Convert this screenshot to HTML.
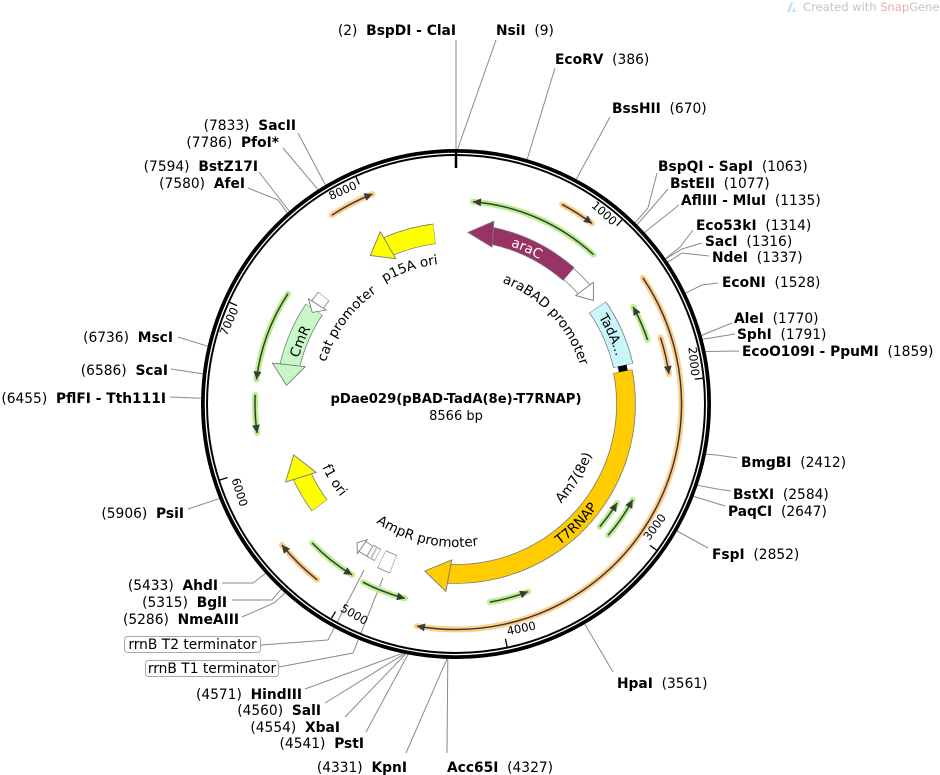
<!DOCTYPE html>
<html><head><meta charset="utf-8"><style>
html,body{margin:0;padding:0;background:#fff;}
svg{display:block;font-family:"DejaVu Sans","Liberation Sans",sans-serif;}
text{white-space:pre;}
.l{font-size:13.8px;fill:#000;}
.b{font-weight:bold;}
.t{font-size:11.5px;fill:#000;}
.in{font-size:13.5px;fill:#000;}
.ln{stroke:#8a8a8a;stroke-width:1;fill:none;}
</style></head><body>
<svg xmlns="http://www.w3.org/2000/svg" width="940" height="775" viewBox="0 0 940 775">
<defs>
<path id="cw167" d="M456,237 A167,167 0 0 1 456,571 A167,167 0 0 1 456,237"/>
<path id="cw130" d="M456,274 A130,130 0 0 1 456,534 A130,130 0 0 1 456,274"/>
<path id="cw141" d="M456,263 A141,141 0 0 1 456,545 A141,141 0 0 1 456,263"/>
<path id="cw137" d="M456,267 A137,137 0 0 1 456,541 A137,137 0 0 1 456,267"/>
<path id="cw164" d="M456,240 A164,164 0 0 1 456,568 A164,164 0 0 1 456,240"/>
<path id="ccw175" d="M456,229 A175,175 0 0 0 456,579 A175,175 0 0 0 456,229"/>
<path id="ccw145" d="M456,259 A145,145 0 0 0 456,549 A145,145 0 0 0 456,259"/>
<path id="ccw148" d="M456,256 A148,148 0 0 0 456,552 A148,148 0 0 0 456,256"/>
<path id="ccw143" d="M456,261 A143,143 0 0 0 456,547 A143,143 0 0 0 456,261"/>
</defs>

<!-- leader lines -->
<g class="ln">
<path d="M456,150 L456,40"/>
<path d="M457.7,149 L496,40"/>
<path d="M527.2,159.1 L555,68"/>
<path d="M576.3,179.2 L610,117"/>
<path d="M635.3,222.6 L648,208 L657,173"/>
<path d="M637.1,224.5 L650,210 L668,189"/>
<path d="M644.6,232.4 L679,205"/>
<path d="M665.5,258.6 L680,247 L693,230"/>
<path d="M665.7,258.8 L682,249 L702,243"/>
<path d="M667.9,262.1 L682,253 L709,256"/>
<path d="M685.6,293.1 L702,285 L718,283"/>
<path d="M701.6,335.4 L732,323"/>
<path d="M702.6,339.2 L735,334"/>
<path d="M705.5,351.5 L739,351"/>
<path d="M706,454.3 L717,455 L737,458"/>
<path d="M697.7,485.3 L717,489 L731,491"/>
<path d="M693.7,496.4 L725,506"/>
<path d="M677.1,531 L708,548"/>
<path d="M584.8,624.1 L613,672"/>
<path d="M447.8,658.9 L447,753"/>
<path d="M447,658.9 L406,753"/>
<path d="M408,654.4 L366,732"/>
<path d="M405.6,654 L345,717"/>
<path d="M404.5,653.8 L325,703"/>
<path d="M402.6,653.3 L305,689"/>
<path d="M284.9,593.1 L274,603 L242,617"/>
<path d="M280.9,589.4 L272,600 L232,600"/>
<path d="M265.5,573.5 L253,583 L222,583"/>
<path d="M219.2,498.7 L188,509"/>
<path d="M201,398.3 L170,397"/>
<path d="M202.8,373.9 L171,369"/>
<path d="M207.6,346.2 L178,337"/>
<path d="M287.3,212.8 L278,200 L248,188"/>
<path d="M289.2,211.1 L259,172"/>
<path d="M318,189.6 L283,148"/>
<path d="M325.4,185 L298,133"/>
<path d="M383,578 L353,653 L279,667"/>
<path d="M364,570 L328,640 L261,645"/>
</g>

<!-- ring -->
<circle cx="456" cy="404" r="251.5" fill="none" stroke="#000" stroke-width="7"/>
<circle cx="456" cy="404" r="250.6" fill="none" stroke="#fff" stroke-width="1.3"/>
<line x1="456" y1="149" x2="456" y2="168" stroke="#000" stroke-width="2.5"/>
<g stroke="#000" stroke-width="1.3">
<line x1="456" y1="156" x2="456" y2="164" transform="rotate(42.03 456 404)"/>
<line x1="456" y1="156" x2="456" y2="164" transform="rotate(84.05 456 404)"/>
<line x1="456" y1="156" x2="456" y2="164" transform="rotate(126.08 456 404)"/>
<line x1="456" y1="156" x2="456" y2="164" transform="rotate(168.11 456 404)"/>
<line x1="456" y1="156" x2="456" y2="164" transform="rotate(210.14 456 404)"/>
<line x1="456" y1="156" x2="456" y2="164" transform="rotate(252.16 456 404)"/>
<line x1="456" y1="156" x2="456" y2="164" transform="rotate(294.19 456 404)"/>
<line x1="456" y1="156" x2="456" y2="164" transform="rotate(336.22 456 404)"/>
</g>
<text class="t" x="453" y="167" text-anchor="end" transform="rotate(42.03 456 404)">1000</text>
<text class="t" x="453" y="167" text-anchor="end" transform="rotate(84.05 456 404)">2000</text>
<text class="t" x="459" y="641" transform="rotate(-53.92 456 404)">3000</text>
<text class="t" x="459" y="641" transform="rotate(-11.89 456 404)">4000</text>
<text class="t" x="459" y="641" transform="rotate(30.14 456 404)">5000</text>
<text class="t" x="459" y="641" transform="rotate(72.16 456 404)">6000</text>
<text class="t" x="453" y="167" text-anchor="end" transform="rotate(294.19 456 404)">7000</text>
<text class="t" x="453" y="167" text-anchor="end" transform="rotate(336.22 456 404)">8000</text>

<!-- primer arrows: halos -->
<g fill="none" stroke-linecap="round" stroke-width="6">
<circle cx="456" cy="404" r="203" pathLength="360" stroke="#b8f08c" stroke-dasharray="37.8 400" transform="rotate(-85.2 456 404)"/>
<circle cx="456" cy="404" r="202" pathLength="360" stroke="#b8f08c" stroke-dasharray="10.2 400" transform="rotate(-28.7 456 404)"/>
<circle cx="456" cy="404" r="201" pathLength="360" stroke="#b8f08c" stroke-dasharray="12.3 400" transform="rotate(28.5 456 404)"/>
<circle cx="456" cy="404" r="189" pathLength="360" stroke="#b8f08c" stroke-dasharray="8.9 400" transform="rotate(31.6 456 404)"/>
<circle cx="456" cy="404" r="201" pathLength="360" stroke="#b8f08c" stroke-dasharray="11.3 400" transform="rotate(69 456 404)"/>
<circle cx="456" cy="404" r="201" pathLength="360" stroke="#b8f08c" stroke-dasharray="12.9 400" transform="rotate(104.7 456 404)"/>
<circle cx="456" cy="404" r="200" pathLength="360" stroke="#b8f08c" stroke-dasharray="14.7 400" transform="rotate(121.3 456 404)"/>
<circle cx="456" cy="404" r="201" pathLength="360" stroke="#b8f08c" stroke-dasharray="26.3 400" transform="rotate(187 456 404)"/>
<circle cx="456" cy="404" r="201" pathLength="360" stroke="#b8f08c" stroke-dasharray="10.9 400" transform="rotate(171.7 456 404)"/>
<circle cx="456" cy="404" r="226" pathLength="360" stroke="#ffcf8a" stroke-dasharray="9 400" transform="rotate(-62 456 404)"/>
<circle cx="456" cy="404" r="226" pathLength="360" stroke="#ffcf8a" stroke-dasharray="11.6 400" transform="rotate(236.7 456 404)"/>
<circle cx="456" cy="404" r="215" pathLength="360" stroke="#ffcf8a" stroke-dasharray="10 400" transform="rotate(-18 456 404)"/>
<circle cx="456" cy="404" r="225.5" pathLength="360" stroke="#ffcf8a" stroke-dasharray="134 400" transform="rotate(-34 456 404)"/>
<circle cx="456" cy="404" r="224" pathLength="360" stroke="#ffcf8a" stroke-dasharray="12.7 400" transform="rotate(128.3 456 404)"/>
</g>
<!-- primer arrows: dark lines -->
<g fill="none" stroke="#3a3a3a" stroke-width="1.5">
<circle cx="456" cy="404" r="203" pathLength="360" stroke-dasharray="37.8 400" transform="rotate(-85.2 456 404)"/>
<circle cx="456" cy="404" r="202" pathLength="360" stroke-dasharray="10.2 400" transform="rotate(-28.7 456 404)"/>
<circle cx="456" cy="404" r="201" pathLength="360" stroke-dasharray="12.3 400" transform="rotate(28.5 456 404)"/>
<circle cx="456" cy="404" r="189" pathLength="360" stroke-dasharray="8.9 400" transform="rotate(31.6 456 404)"/>
<circle cx="456" cy="404" r="201" pathLength="360" stroke-dasharray="11.3 400" transform="rotate(69 456 404)"/>
<circle cx="456" cy="404" r="201" pathLength="360" stroke-dasharray="12.9 400" transform="rotate(104.7 456 404)"/>
<circle cx="456" cy="404" r="200" pathLength="360" stroke-dasharray="14.7 400" transform="rotate(121.3 456 404)"/>
<circle cx="456" cy="404" r="201" pathLength="360" stroke-dasharray="26.3 400" transform="rotate(187 456 404)"/>
<circle cx="456" cy="404" r="201" pathLength="360" stroke-dasharray="10.9 400" transform="rotate(171.7 456 404)"/>
<circle cx="456" cy="404" r="226" pathLength="360" stroke-dasharray="9 400" transform="rotate(-62 456 404)"/>
<circle cx="456" cy="404" r="226" pathLength="360" stroke-dasharray="11.6 400" transform="rotate(236.7 456 404)"/>
<circle cx="456" cy="404" r="215" pathLength="360" stroke-dasharray="10 400" transform="rotate(-18 456 404)"/>
<circle cx="456" cy="404" r="225.5" pathLength="360" stroke-dasharray="134 400" transform="rotate(-34 456 404)"/>
<circle cx="456" cy="404" r="224" pathLength="360" stroke-dasharray="12.7 400" transform="rotate(128.3 456 404)"/>
</g>
<!-- primer arrowheads (CCW pointing: base at +x; CW pointing: base at -x) -->
<g fill="#3a3a3a" stroke-linejoin="round">
<polygon points="456,201 464,197 464,205" transform="rotate(4.8 456 404)"/>
<polygon points="456,202 464,198 464,206" transform="rotate(61.3 456 404)"/>
<polygon points="456,203 464,199 464,207" transform="rotate(118.5 456 404)"/>
<polygon points="456,215 464,211 464,219" transform="rotate(121.6 456 404)"/>
<polygon points="456,203 464,199 464,207" transform="rotate(159 456 404)"/>
<polygon points="456,203 464,199 464,207" transform="rotate(194.7 456 404)"/>
<polygon points="456,204 464,200 464,208" transform="rotate(211.3 456 404)"/>
<polygon points="456,203 464,199 464,207" transform="rotate(277 456 404)"/>
<polygon points="456,203 464,199 464,207" transform="rotate(261.7 456 404)"/>
<polygon points="456,178 448,174 448,182" transform="rotate(37 456 404)"/>
<polygon points="456,178 448,174 448,182" transform="rotate(338.3 456 404)"/>
<polygon points="456,189 448,185 448,193" transform="rotate(82 456 404)"/>
<polygon points="456,178.5 448,174.5 448,182.5" transform="rotate(190 456 404)"/>
<polygon points="456,180 448,176 448,184" transform="rotate(231 456 404)"/>
</g>

<!-- feature bands: outlines -->
<g fill="none" stroke="#7a7a7a">
<circle cx="456" cy="404" r="172" pathLength="360" stroke-width="17.6" stroke-dasharray="29.1 400" transform="rotate(-78.15 456 404)"/>
<circle cx="456" cy="404" r="172" pathLength="360" stroke-width="15.6" stroke-dasharray="7.6 400" transform="rotate(-49.15 456 404)"/>
<circle cx="456" cy="404" r="171.5" pathLength="360" stroke-width="20.6" stroke-dasharray="21.5 400" transform="rotate(-34.35 456 404)"/>
<circle cx="456" cy="404" r="170" pathLength="360" stroke-width="19.6" stroke-dasharray="103.8 400" transform="rotate(-11.15 456 404)"/>
<circle cx="456" cy="404" r="171.5" pathLength="360" stroke-width="20.6" stroke-dasharray="16.3 400" transform="rotate(246.55 456 404)"/>
<circle cx="456" cy="404" r="170.5" pathLength="360" stroke-width="20.6" stroke-dasharray="20.9 400" transform="rotate(192.85 456 404)"/>
<circle cx="456" cy="404" r="170.5" pathLength="360" stroke-width="14.6" stroke-dasharray="3.8 400" transform="rotate(215.35 456 404)"/>
<circle cx="456" cy="404" r="170" pathLength="360" stroke-width="19.6" stroke-dasharray="11.65 400" transform="rotate(143.35 456 404)"/>
<circle cx="456" cy="404" r="170.5" pathLength="360" stroke-width="12.6" stroke-dasharray="3.3 400" transform="rotate(120.35 456 404)"/>
<circle cx="456" cy="404" r="170" pathLength="360" stroke-width="13.6" stroke-dasharray="1.4 400" transform="rotate(117.35 456 404)"/>
<circle cx="456" cy="404" r="170" pathLength="360" stroke-width="13.6" stroke-dasharray="1.4 400" transform="rotate(118.95 456 404)"/>
<circle cx="456" cy="404" r="172" pathLength="360" stroke-width="19.6" stroke-dasharray="4.3 400" transform="rotate(111.35 456 404)"/>
</g>
<!-- feature bands: fills -->
<g fill="none">
<circle cx="456" cy="404" r="172" pathLength="360" stroke="#993366" stroke-width="16" stroke-dasharray="28.8 400" transform="rotate(-78 456 404)"/>
<circle cx="456" cy="404" r="172" pathLength="360" stroke="#fff" stroke-width="14" stroke-dasharray="7.3 400" transform="rotate(-49 456 404)"/>
<circle cx="456" cy="404" r="171.5" pathLength="360" stroke="#c8f6fa" stroke-width="19" stroke-dasharray="21.2 400" transform="rotate(-34.2 456 404)"/>
<circle cx="456" cy="404" r="170.5" pathLength="360" stroke="#000" stroke-width="9" stroke-dasharray="2 400" transform="rotate(-13 456 404)"/>
<circle cx="456" cy="404" r="170" pathLength="360" stroke="#ffcc00" stroke-width="18" stroke-dasharray="103.5 400" transform="rotate(-11 456 404)"/>
<circle cx="456" cy="404" r="171.5" pathLength="360" stroke="#ffff00" stroke-width="19" stroke-dasharray="16 400" transform="rotate(246.7 456 404)"/>
<circle cx="456" cy="404" r="170.5" pathLength="360" stroke="#c8f7c8" stroke-width="19" stroke-dasharray="20.6 400" transform="rotate(193 456 404)"/>
<circle cx="456" cy="404" r="170.5" pathLength="360" stroke="#fff" stroke-width="13" stroke-dasharray="3.5 400" transform="rotate(215.5 456 404)"/>
<circle cx="456" cy="404" r="170" pathLength="360" stroke="#ffff00" stroke-width="18" stroke-dasharray="11.35 400" transform="rotate(143.5 456 404)"/>
<circle cx="456" cy="404" r="170.5" pathLength="360" stroke="#fff" stroke-width="11" stroke-dasharray="3 400" transform="rotate(120.5 456 404)"/>
<circle cx="456" cy="404" r="170" pathLength="360" stroke="#fff" stroke-width="12" stroke-dasharray="1.1 400" transform="rotate(117.5 456 404)"/>
<circle cx="456" cy="404" r="170" pathLength="360" stroke="#fff" stroke-width="12" stroke-dasharray="1.1 400" transform="rotate(119.1 456 404)"/>
<circle cx="456" cy="404" r="172" pathLength="360" stroke="#fff" stroke-width="18" stroke-dasharray="4 400" transform="rotate(111.5 456 404)"/>
</g>
<!-- feature arrowheads -->
<g stroke="#7a7a7a" stroke-width="0.9" stroke-linejoin="miter">
<polygon points="456,232 481,219 481,245" fill="#993366" transform="rotate(4 456 404)"/>
<polygon points="456,232 441.5,221 441.5,243" fill="#fff" transform="rotate(53 456 404)"/>
<polygon points="456,234 431.5,218 431.5,250" fill="#ffcc00" transform="rotate(190.6 456 404)"/>
<polygon points="456,232.5 476.5,217 476.5,248" fill="#ffff00" transform="rotate(330 456 404)"/>
<polygon points="456,233.5 476.5,217 476.5,250" fill="#c8f7c8" transform="rotate(276.3 456 404)"/>
<polygon points="456,233.5 465.5,223 465.5,244" fill="#fff" transform="rotate(302.5 456 404)"/>
<polygon points="456,234 432.5,218 432.5,250" fill="#ffff00" transform="rotate(252.6 456 404)"/>
<polygon points="456,233.5 449.5,225 449.5,242" fill="#fff" transform="rotate(215.5 456 404)"/>
</g>

<!-- feature labels -->
<text class="in" style="fill:#fff"><textPath href="#cw167" startOffset="71.4" text-anchor="middle">araC</textPath></text>
<text class="in"><textPath href="#cw130" startOffset="106.2" text-anchor="middle">araBAD promoter</textPath></text>
<text class="in" style="font-size:13px"><textPath href="#cw167" startOffset="192.4" text-anchor="middle">TadA...</textPath></text>
<text class="in"><textPath href="#ccw175" startOffset="687.2" text-anchor="middle">T7RNAP</textPath></text>
<text class="in"><textPath href="#ccw145" startOffset="602.3" text-anchor="middle">Am7(8e)</textPath></text>
<text class="in"><textPath href="#cw141" startOffset="839.2" text-anchor="middle">p15A ori</textPath></text>
<text class="in"><textPath href="#cw137" startOffset="731.7" text-anchor="middle">cat promoter</textPath></text>
<text class="in"><textPath href="#cw164" startOffset="834.9" text-anchor="middle">CmR</textPath></text>
<text class="in"><textPath href="#ccw148" startOffset="315.1" text-anchor="middle">f1 ori</textPath></text>
<text class="in"><textPath href="#ccw143" startOffset="418" text-anchor="middle">AmpR promoter</textPath></text>

<!-- Created with SnapGene -->
<path d="M787,12 L791,2 L793,2 L790,12 Z M792,12 L794,7 L796,12 Z" fill="#bfe0f5"/>
<text x="803" y="11" style="font-size:11.5px;fill:#c4c4c4">Created with <tspan style="fill:#f2a8a8">Snap</tspan>Gene®</text>

<!-- center -->
<text x="456" y="403" text-anchor="middle" style="font-size:13.2px;font-weight:bold">pDae029(pBAD-TadA(8e)-T7RNAP)</text>
<text x="456" y="420" text-anchor="middle" style="font-size:13px">8566 bp</text>

<!-- right labels -->
<text class="l" x="456" y="35" text-anchor="end">(2)  <tspan class="b">BspDI - ClaI</tspan></text>
<text class="l" x="496" y="35"><tspan class="b">NsiI</tspan>  (9)</text>
<text class="l" x="555" y="64"><tspan class="b">EcoRV</tspan>  (386)</text>
<text class="l" x="612" y="113"><tspan class="b">BssHII</tspan>  (670)</text>
<text class="l" x="658" y="171"><tspan class="b">BspQI - SapI</tspan>  (1063)</text>
<text class="l" x="670" y="188"><tspan class="b">BstEII</tspan>  (1077)</text>
<text class="l" x="681" y="205"><tspan class="b">AflIII - MluI</tspan>  (1135)</text>
<text class="l" x="696" y="230"><tspan class="b">Eco53kI</tspan>  (1314)</text>
<text class="l" x="705" y="246"><tspan class="b">SacI</tspan>  (1316)</text>
<text class="l" x="712" y="262"><tspan class="b">NdeI</tspan>  (1337)</text>
<text class="l" x="722" y="287"><tspan class="b">EcoNI</tspan>  (1528)</text>
<text class="l" x="734" y="323"><tspan class="b">AleI</tspan>  (1770)</text>
<text class="l" x="737" y="339"><tspan class="b">SphI</tspan>  (1791)</text>
<text class="l" x="742" y="356"><tspan class="b">EcoO109I - PpuMI</tspan>  (1859)</text>
<text class="l" x="741" y="467"><tspan class="b">BmgBI</tspan>  (2412)</text>
<text class="l" x="733" y="499"><tspan class="b">BstXI</tspan>  (2584)</text>
<text class="l" x="728" y="516"><tspan class="b">PaqCI</tspan>  (2647)</text>
<text class="l" x="712" y="559"><tspan class="b">FspI</tspan>  (2852)</text>
<text class="l" x="617" y="688"><tspan class="b">HpaI</tspan>  (3561)</text>
<text class="l" x="447" y="772"><tspan class="b">Acc65I</tspan>  (4327)</text>
<!-- left labels -->
<text class="l" x="407" y="772" text-anchor="end">(4331)  <tspan class="b">KpnI</tspan></text>
<text class="l" x="364" y="748" text-anchor="end">(4541)  <tspan class="b">PstI</tspan></text>
<text class="l" x="340" y="732" text-anchor="end">(4554)  <tspan class="b">XbaI</tspan></text>
<text class="l" x="321" y="715" text-anchor="end">(4560)  <tspan class="b">SalI</tspan></text>
<text class="l" x="302" y="699" text-anchor="end">(4571)  <tspan class="b">HindIII</tspan></text>
<rect x="145.5" y="660.5" width="133" height="16" rx="3" fill="#fff" stroke="#aaa"/>
<text class="l" x="212" y="673" text-anchor="middle">rrnB T1 terminator</text>
<rect x="124.5" y="636.5" width="136" height="16" rx="3" fill="#fff" stroke="#aaa"/>
<text class="l" x="192.5" y="649" text-anchor="middle">rrnB T2 terminator</text>
<text class="l" x="239" y="624" text-anchor="end">(5286)  <tspan class="b">NmeAIII</tspan></text>
<text class="l" x="227" y="607" text-anchor="end">(5315)  <tspan class="b">BglI</tspan></text>
<text class="l" x="218" y="590" text-anchor="end">(5433)  <tspan class="b">AhdI</tspan></text>
<text class="l" x="184" y="518" text-anchor="end">(5906)  <tspan class="b">PsiI</tspan></text>
<text class="l" x="166" y="403" text-anchor="end">(6455)  <tspan class="b">PflFI - Tth111I</tspan></text>
<text class="l" x="168" y="375" text-anchor="end">(6586)  <tspan class="b">ScaI</tspan></text>
<text class="l" x="173" y="342" text-anchor="end">(6736)  <tspan class="b">MscI</tspan></text>
<text class="l" x="245" y="188" text-anchor="end">(7580)  <tspan class="b">AfeI</tspan></text>
<text class="l" x="258" y="171" text-anchor="end">(7594)  <tspan class="b">BstZ17I</tspan></text>
<text class="l" x="279" y="147" text-anchor="end">(7786)  <tspan class="b">PfoI*</tspan></text>
<text class="l" x="296" y="130" text-anchor="end">(7833)  <tspan class="b">SacII</tspan></text>
</svg>
</body></html>
